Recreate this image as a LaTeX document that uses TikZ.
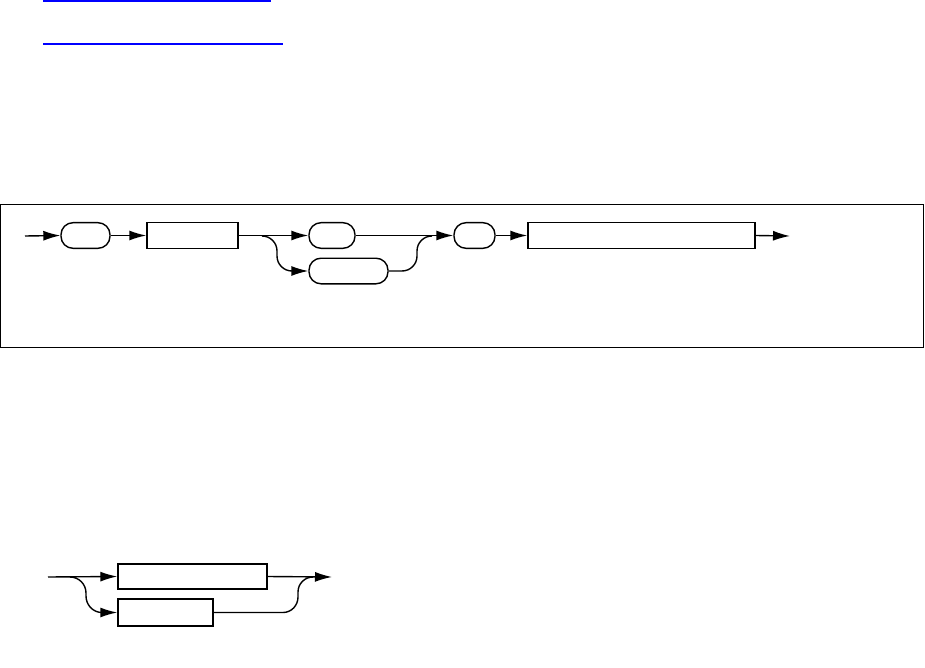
\documentclass[tikz,border=0pt]{standalone}
\usepackage{tikz}
\usetikzlibrary{arrows.meta}
\begin{document}
\begin{tikzpicture}[x=1pt, y=-1pt, line width=1.4pt, >={Latex[length=17pt,width=10pt]},
  term/.style={draw, rounded corners=12pt, minimum height=25.6pt, inner sep=0pt},
  nterm/.style={draw, minimum height=25.6pt, inner sep=0pt},
  link/.style={draw=blue, line width=1.2pt},
  frame/.style={draw, line width=0.9pt}]
\useasboundingbox (0,0) rectangle (925,668);
% links
\draw[link] (43,1) -- (271,1);
\draw[link] (43,44) -- (283,44);
% upper diagram
\draw[frame] (0.5,204.5) rectangle (923,347);
\coordinate (in1) at (25,236);
\node[term, minimum width=49pt]   (t1) at (85.5,235.5) {};
\node[nterm, minimum width=91pt]  (n1) at (192.5,235.5) {};
\node[term, minimum width=46pt]   (t2) at (332,235.5) {};
\node[term, minimum width=79pt]   (t3) at (348.5,271) {};
\node[term, minimum width=41pt]   (t4) at (474.5,235.5) {};
\node[nterm, minimum width=227pt] (n2) at (641.5,235.5) {};
\coordinate (out1) at (790,236);
\coordinate (s1) at (262,236);
\coordinate (j1) at (432,236);
\draw[->] (in1) -- (t1.west);
\draw[->] (t1.east) -- (n1.west);
\draw[->] (n1.east) -- (t2.west);
\draw[->] (s1) to[out=0,in=90] (277,251) -- (277,256) to[out=-90,in=180] (292,271) -- (t3.west);
\draw[->] (t2.east) -- (t4.west);
\draw (t3.east) -- (402,271) to[out=0,in=-90] (417,256) -- (417,251) to[out=90,in=180] (j1);
\draw[->] (t4.east) -- (n2.west);
\draw[->] (n2.east) -- (out1);
% lower diagram
\coordinate (in2) at (48,577);
\node[nterm, minimum width=149pt, minimum height=25pt] (a1) at (192.5,576.5) {};
\node[nterm, minimum width=95pt, minimum height=27pt]  (a2) at (165.5,612.5) {};
\coordinate (out2) at (332,577);
\coordinate (s2) at (70,577);
\coordinate (j2) at (313,577);
\draw[->] (in2) -- (a1.west);
\draw[->] (s2) to[out=0,in=90] (86,593) -- (86,596) to[out=-90,in=180] (102,612.5) -- (a2.west);
\draw[->] (a1.east) -- (out2);
\draw (a2.east) -- (283,612.5) to[out=0,in=-90] (298,597) -- (298,592) to[out=90,in=180] (j2);
\end{tikzpicture}
\end{document}
